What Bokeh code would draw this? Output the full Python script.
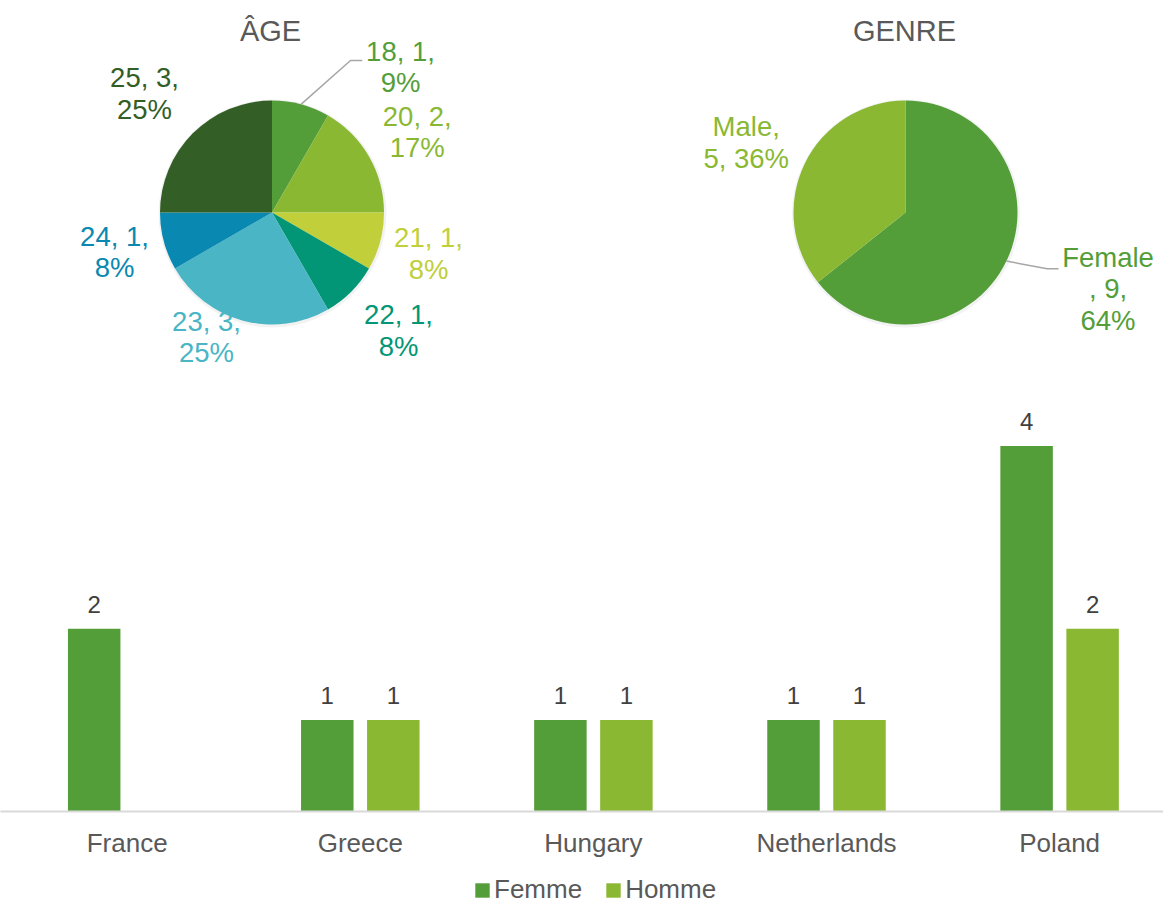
import math
from bokeh.plotting import figure
from bokeh.models import (ColumnDataSource, Range1d, FixedTicker, Legend,
                          LegendItem, LabelSet)
from bokeh.layouts import column
from bokeh.transform import dodge
from bokeh.embed import file_html
from bokeh.resources import INLINE
from bokeh.core.properties import value

# ---------------- data ----------------
age_groups = ["18", "20", "21", "22", "23", "24", "25"]
age_counts = [1, 2, 1, 1, 3, 1, 3]
age_pcts = [9, 17, 8, 8, 25, 8, 25]

genre_groups = ["Female", "Male"]
genre_counts = [9, 5]
genre_pcts = [64, 36]

countries = ["France", "Greece", "Hungary", "Netherlands", "Poland"]
femme = [2, 1, 1, 1, 4]
homme = [None, 1, 1, 1, 2]
series_names = ["Femme", "Homme"]

# ---------------- styles / layout ----------------
FONT = "Liberation Sans"
age_colors = ["#549E39", "#8AB833", "#C0CF3A", "#029676", "#4AB5C4", "#0989B1", "#335E26"]
genre_colors = ["#549E39", "#8AB833"]
FEMME_C, HOMME_C = "#549E39", "#8AB833"
GREY_TXT = "#595959"
VAL_TXT = "#404040"

W = 1163
TOP_H = 390
FRAME_H = 421
BAR_BOTTOM = 62
LEG_H = 905 - TOP_H - FRAME_H - BAR_BOTTOM


def dx(px):  # picture x -> pie figure data x
    return px


def dy(py):  # picture y -> pie figure data y
    return TOP_H - py


age_center = (271.5, 212)
genre_center = (905, 212)
R = 112
LINE_H = 31.7
TXT_SHIFT = -11

age_label_pos = [(400, 61.7), (416.7, 126.7), (428, 248), (398, 325),
                 (206, 331.7), (114, 246.7), (144, 88)]
genre_label_pos = [(1107.5, 267.7), (745.7, 137.3)]

# ---------------- pies ----------------
pie = figure(width=W, height=TOP_H, x_range=Range1d(0, W), y_range=Range1d(0, TOP_H),
             x_axis_location=None, y_axis_location=None, toolbar_location=None,
             output_backend="svg", min_border=0, outline_line_color=None)
pie.grid.visible = False


def wedges(counts):
    tot = float(sum(counts))
    starts, ends, mids = [], [], []
    acc = 0.0
    for c in counts:
        a0 = math.pi / 2 - 2 * math.pi * acc / tot
        acc += c
        a1 = math.pi / 2 - 2 * math.pi * acc / tot
        starts.append(a0)
        ends.append(a1)
        mids.append((a0 + a1) / 2)
    return starts, ends, mids


def draw_pie(center, counts, colors):
    cx, cy = dx(center[0]), dy(center[1])
    s, e, m = wedges(counts)
    # faint shadow
    pie.circle(x=[cx + 0.5], y=[cy - 1], radius=R + 2, fill_color="#000000",
               fill_alpha=0.05, line_color=None)
    src = ColumnDataSource(dict(x=[cx] * len(counts), y=[cy] * len(counts),
                                start=s, end=e, color=colors))
    pie.wedge(x="x", y="y", radius=R, start_angle="start", end_angle="end",
              direction="clock", fill_color="color", line_color=None, source=src)
    return cx, cy, m


def draw_labels(texts, positions, colors):
    xs, ys, ts, cs = [], [], [], []
    for t, (px, py), c in zip(texts, positions, colors):
        for k, line in enumerate(t.split("\n")):
            xs.append(dx(px))
            ys.append(dy(py + TXT_SHIFT + k * LINE_H))
            ts.append(line)
            cs.append(c)
    pie.text(x="x", y="y", text="text", text_color="color",
             source=ColumnDataSource(dict(x=xs, y=ys, text=ts, color=cs)),
             text_align="center", text_baseline="alphabetic",
             text_font=value(FONT), text_font_size="27.5px")


acx, acy, amid = draw_pie(age_center, age_counts, age_colors)
gcx, gcy, gmid = draw_pie(genre_center, genre_counts, genre_colors)

age_texts = [f"{g}, {c},\n{p}%" for g, c, p in zip(age_groups, age_counts, age_pcts)]
genre_texts = [f"{genre_groups[0]}\n, {genre_counts[0]},\n{genre_pcts[0]}%",
               f"{genre_groups[1]},\n{genre_counts[1]}, {genre_pcts[1]}%"]

draw_labels(age_texts, age_label_pos, age_colors)
draw_labels(genre_texts, genre_label_pos, genre_colors)

# leader lines
a0 = amid[0]
pie.line(x=[acx + R * math.cos(a0), dx(350), dx(361.7)],
         y=[acy + R * math.sin(a0), dy(60), dy(60)], line_color="#A6A6A6", line_width=1.5)
g0 = gmid[0]
pie.line(x=[gcx + R * math.cos(g0), dx(1046.7), dx(1058)],
         y=[gcy + R * math.sin(g0), dy(268.3), dy(268.3)], line_color="#A6A6A6", line_width=1.5)

# titles
pie.text(x=[dx(270), dx(904)], y=[dy(40.7 - 10), dy(40.7 - 10)],
         text=["ÂGE", "GENRE"],
         text_color=GREY_TXT, text_align="center", text_baseline="alphabetic",
         text_font=value(FONT), text_font_size="29px")

# ---------------- bars ----------------
x_idx = list(range(len(countries)))
OFF = 0.1416
BW = 0.2252
bar = figure(width=W, height=FRAME_H + BAR_BOTTOM,
             x_range=Range1d(-0.5435, 4.4457), y_range=Range1d(0, 4.606),
             y_axis_location=None, toolbar_location=None, output_backend="svg",
             min_border=0, min_border_bottom=BAR_BOTTOM, outline_line_color=None)
bar.grid.visible = False

src = ColumnDataSource(dict(x=x_idx, femme=femme,
                            homme=[float("nan") if v is None else v for v in homme]))
bar_kw = dict(width=BW, bottom=0, source=src, line_color=None)
rf = bar.vbar(x=dodge("x", -OFF, range=bar.x_range), top="femme", fill_color=FEMME_C, **bar_kw)
rh = bar.vbar(x=dodge("x", OFF, range=bar.x_range), top="homme", fill_color=HOMME_C, **bar_kw)

lx, ly, lt = [], [], []
for i, v in enumerate(femme):
    if v is not None:
        lx.append(i - OFF); ly.append(v); lt.append(str(v))
for i, v in enumerate(homme):
    if v is not None:
        lx.append(i + OFF); ly.append(v); lt.append(str(v))
bar.add_layout(LabelSet(x="x", y="y", text="t",
                        source=ColumnDataSource(dict(x=lx, y=ly, t=lt)),
                        text_align="center", text_baseline="alphabetic",
                        y_offset=16, text_font=value(FONT), text_font_size="24px",
                        text_color=VAL_TXT))

ax = bar.xaxis[0]
ax.ticker = FixedTicker(ticks=x_idx)
ax.major_label_overrides = {i: c for i, c in enumerate(countries)}
ax.axis_line_color = "#D9D9D9"
ax.axis_line_width = 2
ax.major_tick_line_color = None
ax.minor_tick_line_color = None
ax.major_label_standoff = 10
ax.major_label_text_font = FONT
ax.major_label_text_font_size = "26px"
ax.major_label_text_color = GREY_TXT

# ---------------- legend strip (same series, view range shows no bars) ----------------
leg = figure(width=W, height=LEG_H, x_range=Range1d(-20, -19), y_range=Range1d(0, 1),
             x_axis_location=None, y_axis_location=None, toolbar_location=None,
             output_backend="svg", min_border=0, outline_line_color=None)
leg.grid.visible = False
lf = leg.vbar(x="x", top="femme", fill_color=FEMME_C, **bar_kw)
lh = leg.vbar(x="x", top="homme", fill_color=HOMME_C, **bar_kw)
legend = Legend(items=[LegendItem(label=series_names[0], renderers=[lf]),
                       LegendItem(label=series_names[1], renderers=[lh])],
                orientation="horizontal", location=(473, 0),
                label_text_font=FONT, label_text_font_size="26px",
                label_text_color=GREY_TXT, glyph_width=18, glyph_height=18,
                label_standoff=3, spacing=22, padding=0, margin=0,
                border_line_color=None, background_fill_alpha=0)
leg.add_layout(legend, "center")

layout = column(pie, bar, leg, spacing=0)
open("out.html", "w").write(file_html(layout, INLINE))
